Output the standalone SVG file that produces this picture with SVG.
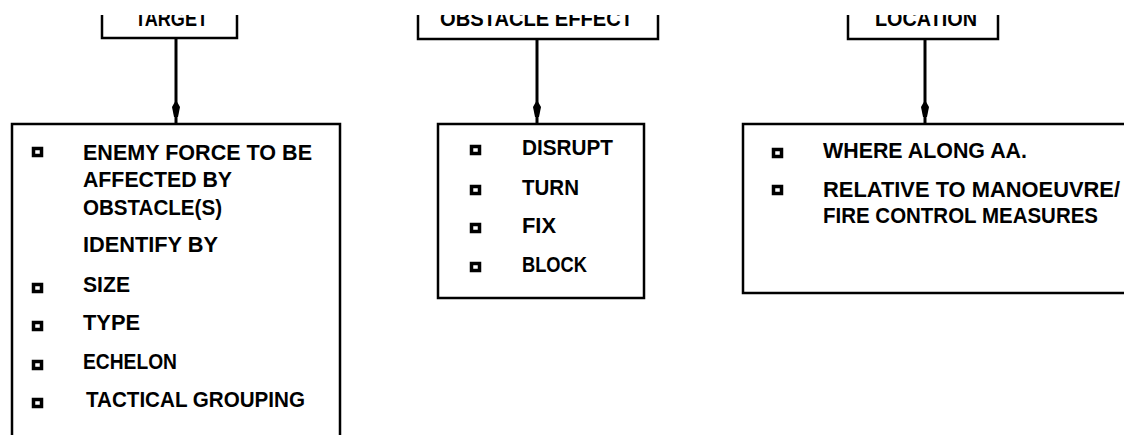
<svg xmlns="http://www.w3.org/2000/svg" width="1124" height="435" viewBox="0 0 1124 435">
<style>
.box{fill:none;stroke:#000;stroke-width:2.5}
.con{fill:none;stroke:#000;stroke-width:3}
.t{font-family:"Liberation Sans",Arial,sans-serif;font-weight:bold;font-size:22px;fill:#000}
.b{fill:#fff;stroke:#000;stroke-width:3.5}
</style>
<defs>
<clipPath id="top"><rect x="0" y="15" width="1124" height="40"/></clipPath>
<marker id="arr" markerWidth="18" markerHeight="10" refX="17" refY="5" orient="auto" markerUnits="userSpaceOnUse" viewBox="0 0 18 10">
<path d="M0,5 L7,1 L17,3 L17,7 L7,9 Z" fill="#000"/>
</marker>
</defs>
<rect width="1124" height="435" fill="#fff"/>

<g id="target">
<path class="box" d="M102,15 V38 H237 V15"/>
<text class="t" x="135" y="26" textLength="73" lengthAdjust="spacingAndGlyphs" clip-path="url(#top)">TARGET</text>
</g>
<g id="obstacle-effect">
<path class="box" d="M418,15 V39 H658 V15"/>
<text class="t" x="440" y="26" textLength="193" lengthAdjust="spacingAndGlyphs" clip-path="url(#top)">OBSTACLE EFFECT</text>
</g>
<g id="location">
<path class="box" d="M848,15 V39 H998 V15"/>
<text class="t" x="875" y="26" textLength="102" lengthAdjust="spacingAndGlyphs" clip-path="url(#top)">LOCATION</text>
</g>

<g id="connectors">
<path class="con" d="M176,38 V117" marker-end="url(#arr)"/>
<path class="con" d="M176,115 V124"/>
<path class="con" d="M537,39 V117" marker-end="url(#arr)"/>
<path class="con" d="M537,115 V124"/>
<path class="con" d="M925,39 V117" marker-end="url(#arr)"/>
<path class="con" d="M925,115 V124"/>
</g>

<g id="target-details">
<path class="box" d="M12,440 V124 H340 V440"/>
<rect class="b" x="33.5" y="148.5" width="8" height="7"/>
<text class="t" x="83" y="160" textLength="229" lengthAdjust="spacingAndGlyphs">ENEMY FORCE TO BE</text>
<text class="t" x="83" y="187" textLength="149" lengthAdjust="spacingAndGlyphs">AFFECTED BY</text>
<text class="t" x="83" y="215" textLength="139" lengthAdjust="spacingAndGlyphs">OBSTACLE(S)</text>
<text class="t" x="83" y="252" textLength="135" lengthAdjust="spacingAndGlyphs">IDENTIFY BY</text>
<rect class="b" x="33.5" y="284.5" width="8" height="7"/>
<text class="t" x="83" y="292" textLength="47" lengthAdjust="spacingAndGlyphs">SIZE</text>
<rect class="b" x="33.5" y="322.5" width="8" height="7"/>
<text class="t" x="83" y="330" textLength="57" lengthAdjust="spacingAndGlyphs">TYPE</text>
<rect class="b" x="33.5" y="361.5" width="8" height="7"/>
<text class="t" x="83" y="369" textLength="94" lengthAdjust="spacingAndGlyphs">ECHELON</text>
<rect class="b" x="33.5" y="399.5" width="8" height="7"/>
<text class="t" x="86" y="407" textLength="219" lengthAdjust="spacingAndGlyphs">TACTICAL GROUPING</text>
</g>

<g id="effect-details">
<rect class="box" x="438" y="124" width="206" height="174"/>
<rect class="b" x="471.5" y="146.5" width="8" height="7"/>
<text class="t" x="522" y="155" textLength="91" lengthAdjust="spacingAndGlyphs">DISRUPT</text>
<rect class="b" x="471.5" y="186.5" width="8" height="7"/>
<text class="t" x="522" y="195" textLength="57" lengthAdjust="spacingAndGlyphs">TURN</text>
<rect class="b" x="471.5" y="224.5" width="8" height="7"/>
<text class="t" x="522" y="233" textLength="34" lengthAdjust="spacingAndGlyphs">FIX</text>
<rect class="b" x="471.5" y="263.5" width="8" height="7"/>
<text class="t" x="522" y="272" textLength="65" lengthAdjust="spacingAndGlyphs">BLOCK</text>
</g>

<g id="location-details">
<path class="box" d="M1130,124 H743 V293 H1130"/>
<rect class="b" x="773.5" y="149.5" width="8" height="7"/>
<text class="t" x="823" y="158" textLength="204" lengthAdjust="spacingAndGlyphs">WHERE ALONG AA.</text>
<rect class="b" x="773.5" y="186.5" width="8" height="7"/>
<text class="t" x="823" y="197" textLength="297" lengthAdjust="spacingAndGlyphs">RELATIVE TO MANOEUVRE/</text>
<text class="t" x="823" y="223" textLength="275" lengthAdjust="spacingAndGlyphs">FIRE CONTROL MEASURES</text>
</g>
</svg>
